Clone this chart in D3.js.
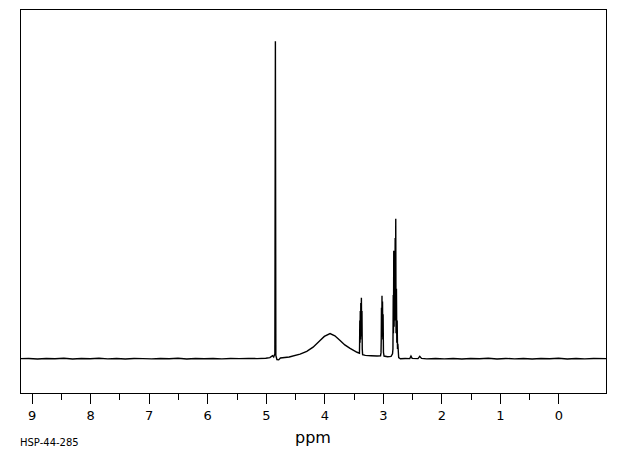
<!DOCTYPE html>
<html><head><meta charset="utf-8">
<script src="https://cdn.jsdelivr.net/npm/d3@7"></script>
<style>body{margin:0;background:#fff}svg{display:block}</style>
</head><body>
<svg id="c" width="620" height="455"></svg>
<script>
// tick labels
const majorTicks = [9, 8, 7, 6, 5, 4, 3, 2, 1, 0];
const minorTicks = [8.5, 7.5, 6.5, 5.5, 4.5, 3.5, 2.5, 1.5, 0.5];
// spectrum (ppm, relative intensity)
const ppm = [
  9.19, 9.05, 8.9, 8.75, 8.6, 8.45, 8.3, 8.15, 8.0, 7.85, 7.7, 7.55, 7.4, 7.25, 7.1, 6.95,
  6.8, 6.65, 6.5, 6.35, 6.2, 6.05, 5.9, 5.75, 5.6, 5.45, 5.3, 5.15, 5.0, 4.93,
  4.885, 4.865, 4.845, 4.836, 4.828, 4.81, 4.78, 4.75, 4.6, 4.414, 4.3, 4.192, 4.073, 4.0,
  3.902, 3.82, 3.731, 3.65, 3.56, 3.441, 3.40,
  3.398, 3.394, 3.390, 3.386, 3.381, 3.377, 3.372, 3.367, 3.362, 3.357, 3.352, 3.346,
  3.30, 3.20, 3.10, 3.04, 3.032,
  3.028, 3.024, 3.019, 3.015, 3.011, 3.006, 3.001, 2.996, 2.990, 2.98, 2.92, 2.86, 2.835,
  2.828, 2.823, 2.819, 2.814, 2.808, 2.802, 2.795, 2.790, 2.785, 2.780, 2.775, 2.768, 2.762, 2.756, 2.750, 2.744, 2.73,
  2.70, 2.62, 2.54, 2.52, 2.50, 2.40, 2.37, 2.34, 2.25, 2.1, 1.95, 1.8, 1.65, 1.5,
  1.35, 1.2, 1.05, 0.9, 0.75, 0.6, 0.45, 0.3, 0.15, 0.0, -0.15, -0.3, -0.45, -0.6, -0.82
];
const intensity = [
  0.0, 0.05, -0.15, 0.05, -0.05, 0.1, -0.15, 0.05, -0.05, 0.1, -0.1, 0.05, -0.15, 0.05, 0.0, -0.1,
  0.05, -0.05, 0.1, -0.15, 0.05, -0.05, 0.05, -0.1, 0.05, 0.0, 0.05, 0.0, 0.1, 0.3,
  0.9, 0.5, 1.5, 100, 1.0, -0.3, -0.4, 0.2, 0.5, 1.4, 2.3, 3.6, 5.7, 7.0,
  7.9, 7.2, 5.7, 4.3, 3.2, 2.0, 1.7,
  4.0, 12.0, 5.0, 15.0, 6.0, 17.5, 7.0, 19.2, 9.0, 15.0, 3.0, 1.2,
  1.0, 0.9, 0.8, 0.9, 1.8,
  6.0, 16.0, 7.0, 19.8, 8.0, 18.0, 6.0, 14.0, 2.0, 0.8, 0.6, 0.7, 1.5,
  3.0, 20.0, 8.0, 34.0, 10.0, 28.0, 12.0, 38.0, 14.0, 44.1, 8.0, 22.0, 5.0, 12.0, 3.0, 4.7, 0.3,
  -0.05, 0.05, 0.0, 0.8, 0.05, 0.0, 0.7, 0.05, -0.1, 0.05, -0.1, 0.05, -0.15, 0.05,
  -0.05, 0.1, -0.15, 0.05, -0.1, 0.05, -0.15, 0.05, -0.05, 0.1, -0.15, 0.05, -0.1, 0.05, 0.0
];

const L = 20.5, R = 606.5, T = 9.5, B = 393.5;
const svg = d3.select("#c");
const x = d3.scaleLinear().domain([9.19, -0.82]).range([L, R]);
const y = d3.scaleLinear().domain([-11, 110]).range([B, T]);

svg.append("clipPath").attr("id", "clip").append("rect")
  .attr("x", L).attr("y", T).attr("width", R - L).attr("height", B - T);

const pts = ppm.map((p, i) => [p, intensity[i]]);
svg.append("path").datum(pts)
  .attr("clip-path", "url(#clip)")
  .attr("fill", "none").attr("stroke", "#000").attr("stroke-width", 1.4)
  .attr("stroke-linejoin", "miter")
  .attr("d", d3.line().x(d => x(d[0])).y(d => y(d[1])));

svg.append("rect").attr("x", L).attr("y", T).attr("width", R - L).attr("height", B - T)
  .attr("fill", "none").attr("stroke", "#000").attr("stroke-width", 1)
  .attr("shape-rendering", "crispEdges");

const ax = svg.append("g").attr("transform", `translate(0,${B})`)
  .call(d3.axisBottom(x).tickValues(majorTicks).tickSize(10).tickPadding(7).tickFormat(d3.format("d")));
ax.select(".domain").remove();
ax.selectAll("line").attr("shape-rendering", "crispEdges");
ax.selectAll("text").attr("font-family", "DejaVu Sans").attr("font-size", 13).attr("fill", "#000");

const mx = svg.append("g").attr("transform", `translate(0,${B})`)
  .call(d3.axisBottom(x).tickValues(minorTicks).tickSize(6).tickFormat(""));
mx.select(".domain").remove();
mx.selectAll("line").attr("shape-rendering", "crispEdges");

svg.append("text").attr("x", 313).attr("y", 443).attr("text-anchor", "middle")
  .attr("font-family", "DejaVu Sans").attr("font-size", 16).text("ppm");
svg.append("text").attr("x", 20).attr("y", 446)
  .attr("font-family", "DejaVu Sans").attr("font-size", 10).text("HSP-44-285");
</script>
</body></html>
